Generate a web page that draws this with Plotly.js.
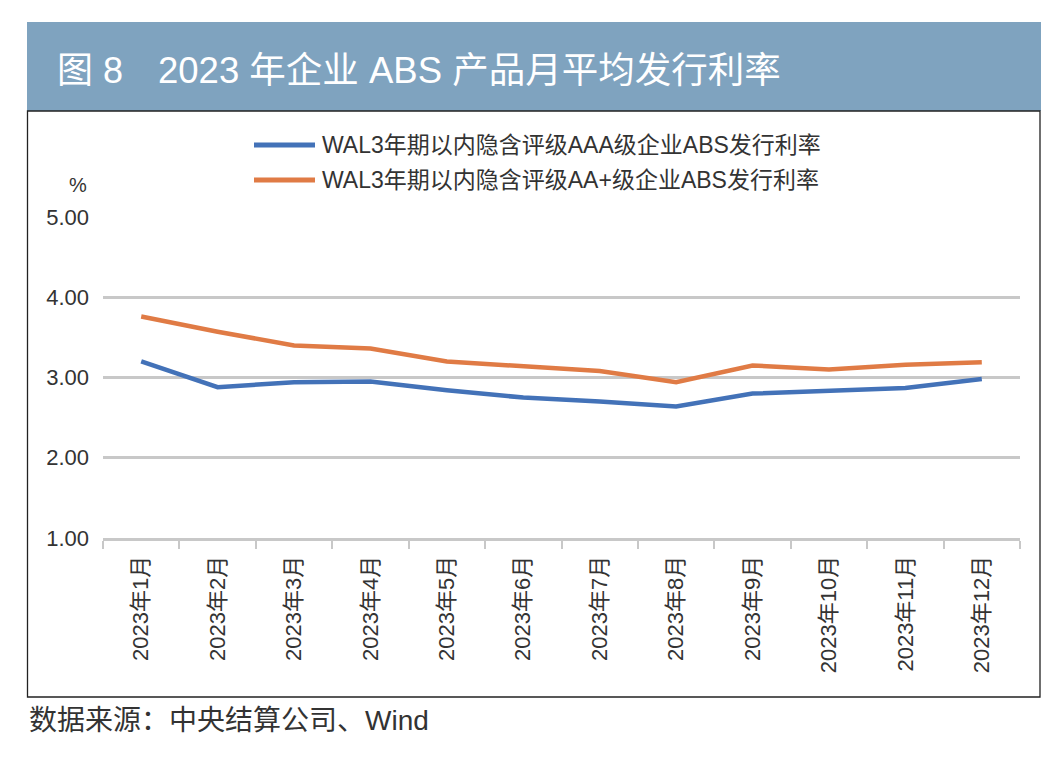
<!DOCTYPE html>
<html>
<head>
<meta charset="utf-8">
<script src="https://cdn.plot.ly/plotly-3.0.1.min.js"></script>
<style>html,body{margin:0;padding:0;background:#fff;}#chart{width:1063px;height:762px;}</style>
</head>
<body>
<div id="chart"></div>
<script>
const months = ["2023年1月","2023年2月","2023年3月","2023年4月","2023年5月","2023年6月","2023年7月","2023年8月","2023年9月","2023年10月","2023年11月","2023年12月"];
const seriesAAA = [3.20, 2.88, 2.94, 2.95, 2.84, 2.75, 2.70, 2.64, 2.80, 2.84, 2.87, 2.98];
const seriesAAplus = [3.76, 3.57, 3.40, 3.36, 3.20, 3.14, 3.08, 2.94, 3.15, 3.10, 3.16, 3.19];
const nameAAA = "WAL3年期以内隐含评级AAA级企业ABS发行利率";
const nameAAplus = "WAL3年期以内隐含评级AA+级企业ABS发行利率";
const yTicks = [1, 2, 3, 4, 5];
const titleLabel = "图 8";
const titleText = "2023 年企业 ABS 产品月平均发行利率";
const sourceText = "数据来源：中央结算公司、Wind";
const unitText = "%";

const colorAAA = "#4372b8";
const colorAAplus = "#e07b45";

const FONT = "Liberation Sans, Arial, Noto Sans CJK SC, sans-serif";
const W = 1063, H = 762;
const mL = 103, mR = 43, mT = 217, mB = 224;
const px = x => (x - mL) / (W - mL - mR);
const py = y => (H - mB - y) / (H - mT - mB);

const traces = [
  {x: months, y: seriesAAA, name: nameAAA, type: "scatter", mode: "lines",
   line: {color: colorAAA, width: 4.5}},
  {x: months, y: seriesAAplus, name: nameAAplus, type: "scatter", mode: "lines",
   line: {color: colorAAplus, width: 4.5}}
];

const legendRows = [[nameAAA, colorAAA, 145], [nameAAplus, colorAAplus, 180]];

const shapes = [
  {type: "rect", xref: "paper", yref: "paper", x0: px(27), x1: px(1041), y0: py(22), y1: py(111),
   fillcolor: "#7fa3bf", line: {width: 0}, layer: "below"},
  {type: "rect", xref: "paper", yref: "paper", x0: px(27.5), x1: px(1040), y0: py(111), y1: py(697),
   fillcolor: "rgba(0,0,0,0)", line: {color: "#222222", width: 1.3}, layer: "below"}
];
const annotations = [
  {text: titleLabel, xref: "paper", yref: "paper", x: px(55), y: py(70), xanchor: "left", yanchor: "middle",
   showarrow: false, font: {size: 36, color: "#ffffff", family: FONT}},
  {text: titleText, xref: "paper", yref: "paper", x: px(156), y: py(70), xanchor: "left", yanchor: "middle",
   showarrow: false, font: {size: 36.5, color: "#ffffff", family: FONT}},
  {text: unitText, xref: "paper", yref: "paper", x: px(78), y: py(185), xanchor: "center", yanchor: "middle",
   showarrow: false, font: {size: 20, color: "#333333"}},
  {text: sourceText, xref: "paper", yref: "paper", x: px(27), y: py(720), xanchor: "left", yanchor: "middle",
   showarrow: false, font: {size: 28, color: "#333333"}}
];
legendRows.forEach(([name, color, yy]) => {
  shapes.push({type: "line", xref: "paper", yref: "paper", x0: px(254), x1: px(315), y0: py(yy), y1: py(yy),
    line: {color: color, width: 5}});
  annotations.push({text: name, xref: "paper", yref: "paper", x: px(320), y: py(yy), xanchor: "left", yanchor: "middle",
    showarrow: false, font: {size: 23, color: "#333333"}});
});

const layout = {
  width: W, height: H,
  margin: {l: mL, r: mR, t: mT, b: mB, pad: 0},
  paper_bgcolor: "#ffffff", plot_bgcolor: "#ffffff",
  font: {family: FONT, color: "#333333", size: 19},
  showlegend: false,
  xaxis: {type: "category", range: [-0.5, 11.5], tickson: "boundaries",
    ticks: "outside", ticklen: 8, tickwidth: 2, tickcolor: "#c8c8c8",
    showgrid: false, showline: true, linecolor: "#c8c8c8", linewidth: 3,
    ticklabelstandoff: 6,
    tickangle: -90, tickfont: {size: 22, color: "#333333"}, fixedrange: true},
  yaxis: {range: [1, 5], tickvals: yTicks, tickformat: ".2f",
    showgrid: true, gridcolor: "#c8c8c8", gridwidth: 3, zeroline: false,
    showline: false, ticks: "", ticklabelstandoff: 13,
    tickfont: {size: 22, color: "#333333"}, fixedrange: true},
  shapes: shapes,
  annotations: annotations
};

Plotly.newPlot("chart", traces, layout, {displayModeBar: false, staticPlot: true});
</script>
</body>
</html>
